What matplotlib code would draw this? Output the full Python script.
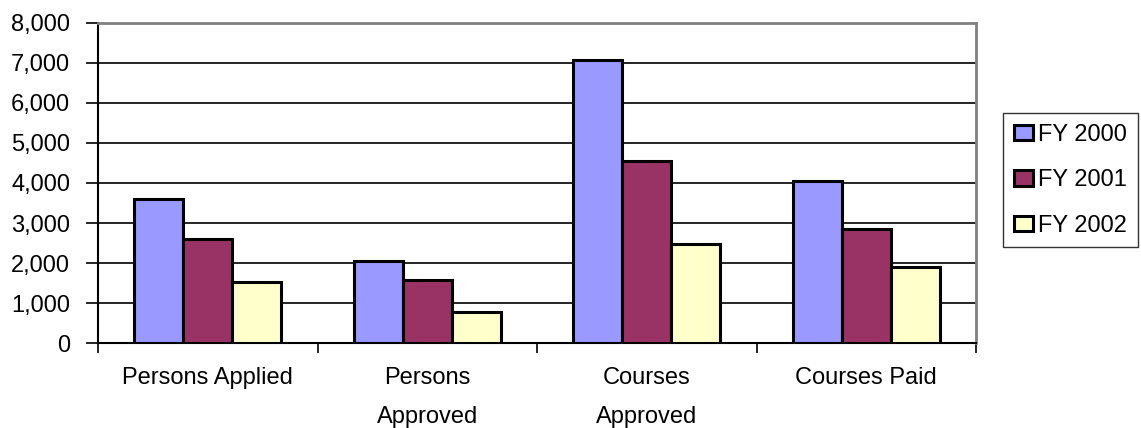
import matplotlib.pyplot as plt
import numpy as np

plt.rcParams['font.family'] = ['Liberation Sans', 'DejaVu Sans']

# data
categories = ['Persons Applied', 'Persons\nApproved', 'Courses\nApproved', 'Courses Paid']
series_names = ['FY 2000', 'FY 2001', 'FY 2002']
fy2000 = [3610, 2050, 7080, 4050]
fy2001 = [2610, 1580, 4560, 2860]
fy2002 = [1540, 780, 2490, 1900]
colors = ['#9999FF', '#993366', '#FFFFCC']
yticks = [0, 1000, 2000, 3000, 4000, 5000, 6000, 7000, 8000]

fig = plt.figure(figsize=(11.41, 4.28), dpi=100)
ax = fig.add_axes([98 / 1141, 1 - 343.3 / 428, (976 - 98) / 1141, (343.3 - 22.7) / 428])

x = np.arange(len(categories))
w = 0.223
for i, (vals, name) in enumerate(zip([fy2000, fy2001, fy2002], series_names)):
    ax.bar(x + (i - 1) * w, vals, w, color=colors[i], edgecolor='black',
           linewidth=2.2, label=name, zorder=3)

ax.set_xlim(-0.5, 3.5)
ax.set_ylim(0, 8000)
ax.set_yticks(yticks)
ax.set_yticklabels([f'{v:,}' for v in yticks], fontsize=17)
ax.yaxis.grid(True, color='black', linewidth=1.2, zorder=0)

# category labels on minor ticks, tick marks between groups
ax.set_xticks(np.arange(-0.5, 4.0, 1.0))
ax.set_xticklabels([])
ax.set_xticks(x, minor=True)
ax.set_xticklabels(categories, minor=True, fontsize=17, linespacing=2.0)
ax.tick_params(axis='x', which='minor', length=0, pad=17)
ax.tick_params(axis='x', which='major', length=7, width=1.2, direction='out')
ax.tick_params(axis='y', length=9, width=1.2, pad=11)

for s in ['left', 'bottom']:
    ax.spines[s].set_color('black')
    ax.spines[s].set_linewidth(1.5)
for s in ['top', 'right']:
    ax.spines[s].set_color('#808080')
    ax.spines[s].set_linewidth(2)

leg = fig.legend(loc='upper left', bbox_to_anchor=(1003 / 1141, 1 - 113 / 428),
                 fontsize=17, frameon=True, fancybox=False, edgecolor='black',
                 handlelength=0.8, handleheight=0.64, handletextpad=0.25,
                 labelspacing=1.0, borderpad=0.45, borderaxespad=0)
leg.get_frame().set_linewidth(1.0)

fig.savefig('out.png', dpi=100)
